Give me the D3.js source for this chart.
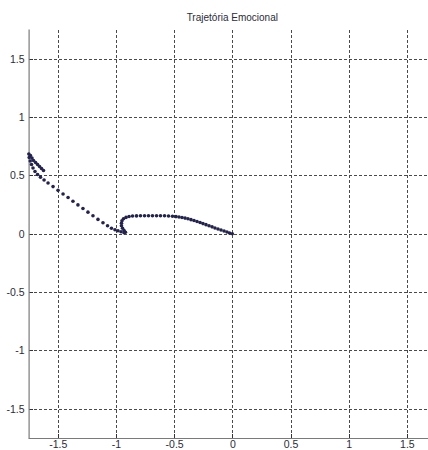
<!DOCTYPE html>
<html>
<head>
<meta charset="utf-8">
<script src="https://cdn.jsdelivr.net/npm/d3@7/dist/d3.min.js"></script>
<style>
  html, body { margin: 0; padding: 0; background: #ffffff; }
  svg { display: block; }
  text { font-family: "Liberation Sans", Arial, sans-serif; fill: #2b2b3a; }
</style>
</head>
<body>
<svg id="chart" width="428" height="450"></svg>
<script>
// Emotional trajectory samples (valence on x, arousal on y)
const trajX = [
  0.000, -0.024, -0.046, -0.071, -0.097, -0.123, -0.149, -0.174, -0.200, -0.226,
  -0.252, -0.277, -0.303, -0.329, -0.355, -0.381, -0.406, -0.432, -0.458, -0.484,
  -0.514, -0.548, -0.582, -0.617, -0.651, -0.686, -0.720, -0.754, -0.789, -0.823,
  -0.857, -0.887, -0.913, -0.935, -0.948, -0.952, -0.952, -0.943, -0.930, -0.918,
  -0.930, -0.956, -0.982, -1.008, -1.038, -1.072, -1.111, -1.154, -1.197, -1.240,
  -1.283, -1.326, -1.369, -1.411, -1.454, -1.497, -1.540, -1.583, -1.617, -1.648,
  -1.673, -1.695, -1.712, -1.725, -1.736, -1.745, -1.748, -1.734, -1.721, -1.708,
  -1.690, -1.673, -1.656, -1.639, -1.622
];
const trajY = [
  0.000, 0.007, 0.015, 0.023, 0.032, 0.041, 0.049, 0.059, 0.068, 0.078,
  0.087, 0.096, 0.105, 0.113, 0.121, 0.128, 0.134, 0.139, 0.143, 0.147,
  0.150, 0.152, 0.154, 0.154, 0.154, 0.154, 0.154, 0.154, 0.154, 0.153,
  0.152, 0.148, 0.140, 0.128, 0.111, 0.090, 0.068, 0.047, 0.027, 0.013,
  0.009, 0.017, 0.026, 0.034, 0.047, 0.068, 0.094, 0.123, 0.154, 0.185,
  0.216, 0.247, 0.278, 0.310, 0.341, 0.372, 0.404, 0.435, 0.461, 0.485,
  0.508, 0.533, 0.563, 0.593, 0.623, 0.653, 0.683, 0.670, 0.648, 0.627,
  0.610, 0.593, 0.576, 0.559, 0.542
];
const xTicks = [-1.5, -1, -0.5, 0, 0.5, 1, 1.5];
const yTicks = [-1.5, -1, -0.5, 0, 0.5, 1, 1.5];
const xDomain = [-1.75, 1.75];
const yDomain = [-1.75, 1.75];
const title = "Trajetória Emocional";

const svg = d3.select("#chart");
const plotLeft = 28.6, plotRight = 436, plotTop = 29.5, plotBottom = 438;

const x = d3.scaleLinear().domain(xDomain).range([plotLeft, plotRight]);
const y = d3.scaleLinear().domain(yDomain).range([plotBottom, plotTop]);

const fmt = d => (d === 0 ? "0" : String(d));

// dashed grid
const grid = svg.append("g").attr("stroke", "#4a4a4a").attr("stroke-width", 1)
  .attr("stroke-dasharray", "3,2").attr("shape-rendering", "crispEdges");
grid.selectAll("line.v").data(xTicks).join("line").attr("class", "v")
  .attr("x1", d => Math.round(x(d)) + 0.5).attr("x2", d => Math.round(x(d)) + 0.5)
  .attr("y1", plotTop).attr("y2", plotBottom);
grid.selectAll("line.h").data(yTicks).join("line").attr("class", "h")
  .attr("y1", d => Math.round(y(d)) + 0.5).attr("y2", d => Math.round(y(d)) + 0.5)
  .attr("x1", plotLeft).attr("x2", plotRight);

// axes: labels outside, tick marks drawn inward separately
const xAxis = d3.axisBottom(x).tickValues(xTicks).tickSize(0).tickPadding(3).tickFormat(fmt);
const yAxis = d3.axisLeft(y).tickValues(yTicks).tickSize(0).tickPadding(4).tickFormat(fmt);

const gx = svg.append("g").attr("transform", `translate(0,${plotBottom})`).call(xAxis);
const gy = svg.append("g").attr("transform", `translate(${plotLeft},0)`).call(yAxis);
[gx, gy].forEach(g => {
  g.select(".domain").remove();
  g.selectAll("text").style("font-size", "10.5px").attr("fill", "#2b2b3a")
    .style("font-family", '"Liberation Sans", Arial, sans-serif');
});

// inward tick marks
svg.append("g").attr("stroke", "#333").attr("shape-rendering", "crispEdges")
  .selectAll("line").data(xTicks).join("line")
  .attr("x1", d => Math.round(x(d)) + 0.5).attr("x2", d => Math.round(x(d)) + 0.5)
  .attr("y1", plotBottom).attr("y2", plotBottom - 4);
svg.append("g").attr("stroke", "#333").attr("shape-rendering", "crispEdges")
  .selectAll("line").data(yTicks).join("line")
  .attr("y1", d => Math.round(y(d)) + 0.5).attr("y2", d => Math.round(y(d)) + 0.5)
  .attr("x1", plotLeft).attr("x2", plotLeft + 4);

// axis lines (left and bottom)
svg.append("line").attr("x1", plotLeft + 0.5).attr("x2", plotLeft + 0.5)
  .attr("y1", plotTop).attr("y2", plotBottom + 0.5)
  .attr("stroke", "#7a7a7a").attr("stroke-width", 1.2);
svg.append("line").attr("x1", plotLeft).attr("x2", plotRight)
  .attr("y1", plotBottom + 0.5).attr("y2", plotBottom + 0.5)
  .attr("stroke", "#7a7a7a").attr("stroke-width", 1.2);

// trajectory markers
const pts = trajX.map((v, i) => [v, trajY[i]]);
svg.append("g").attr("fill", "#23234d")
  .selectAll("circle").data(pts).join("circle")
  .attr("cx", d => x(d[0])).attr("cy", d => y(d[1])).attr("r", 1.8);

// title
svg.append("text").attr("x", (plotLeft + plotRight) / 2).attr("y", 21)
  .attr("text-anchor", "middle").style("font-size", "10px").text(title);
</script>
</body>
</html>
